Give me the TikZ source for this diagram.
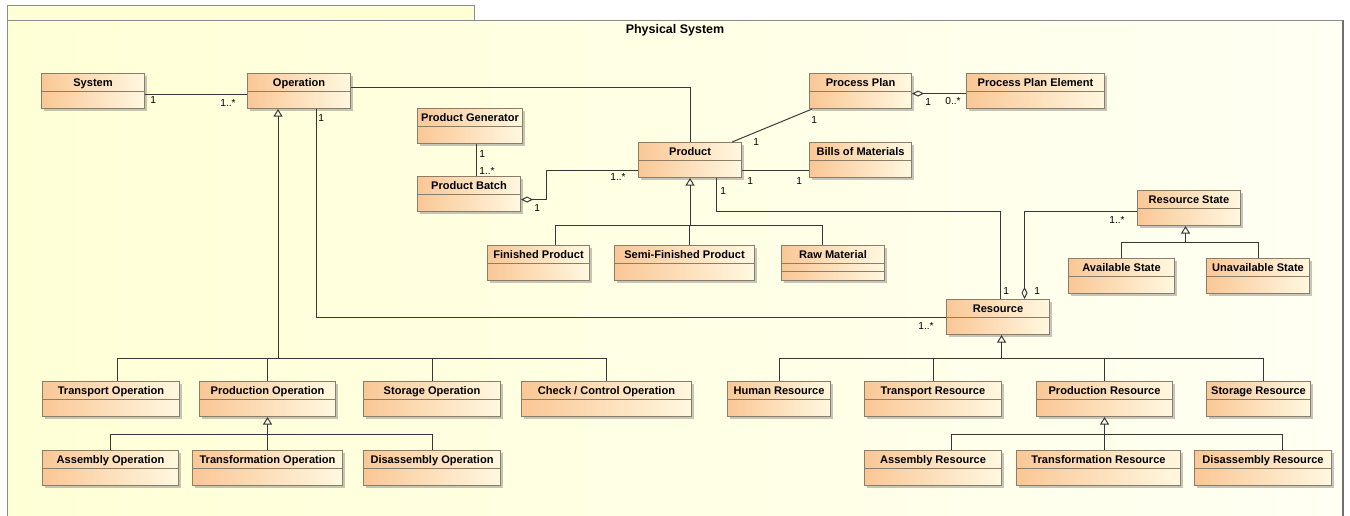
\documentclass[tikz,border=0pt]{standalone}
\usepackage{fontspec}
\setmainfont{Liberation Sans}
\usetikzlibrary{arrows.meta,shadows}

\definecolor{framebg}{RGB}{255,255,214}
\definecolor{framebgr}{RGB}{255,255,243}
\definecolor{frameline}{RGB}{140,140,140}
\definecolor{boxorange}{RGB}{250,199,150}
\definecolor{boxcream}{RGB}{255,248,224}
\definecolor{boxline}{RGB}{140,126,102}
\definecolor{wire}{RGB}{55,55,55}

\begin{document}
\begin{tikzpicture}[x=0.02cm, y=-0.02cm,
    classbox/.style={draw=boxline, line width=0.6pt, left color=boxorange, right color=boxcream,
        anchor=north west, inner sep=0pt, minimum height=0.7cm, minimum width=#1*0.02cm,
        drop shadow={shadow xshift=0.05cm, shadow yshift=-0.05cm, fill=black!45, opacity=0.5},
        path picture={\draw[boxline, line width=0.6pt] ([yshift=-0.36cm]path picture bounding box.north west) -- ([yshift=-0.36cm]path picture bounding box.north east);}},
    cname/.style={anchor=base, font=\fontsize{6.3}{7.5}\selectfont\bfseries, inner sep=0pt},
    mult/.style={anchor=base west, font=\fontsize{5.8}{7}\selectfont, inner sep=0pt},
    wire/.style={draw=wire, line width=0.55pt},
    gen/.style={wire, -{Triangle[open, length=1.5mm, width=1.8mm]}},
    aggr/.style={wire, {Diamond[open, length=2.4mm, width=1.2mm]}-}]

    \useasboundingbox (0,0) rectangle (1350,515);
    \fill[white] (0,0) rectangle (1350,515);
    \draw[frameline, fill=framebg] (7,5) rectangle (474,20);
    \path[left color=framebg, right color=framebgr] (7,20) rectangle (1343,520);
    \draw[frameline] (7,520) -- (7,20) -- (1343,20);
    \draw[frameline!80!black, line width=1.1pt] (1343,20) -- (1343,520);
    \node[font=\fontsize{7.1}{8.5}\selectfont\bfseries] (title) at (675,30) {Physical System};

    \foreach \nm/\x/\y/\w/\txt in {sys/41/73/103/System, op/247/73/103/Operation,
        pgen/417/108/105/Product Generator, pbatch/417/176/103/Product Batch,
        prod/638/142/103/Product, pplan/809/73/102/Process Plan,
        ppel/966/73/138/Process Plan Element, bom/809/142/102/Bills of Materials,
        fin/487/245/102/Finished Product, semi/614/245/140/Semi-Finished Product,
        raw/781/245/103/Raw Material, rstate/1137/190/103/Resource State,
        avail/1068/258/106/Available State, unavail/1206/258/103/Unavailable State,
        res/946/299/103/Resource, transop/42/381/137/Transport Operation,
        prodop/199/381/136/Production Operation, storop/363/381/137/Storage Operation,
        chkop/521/381/170/{Check / Control Operation}, asmop/42/450/136/Assembly Operation,
        trfop/192/450/150/Transformation Operation, disop/363/450/137/Disassembly Operation,
        hres/727/381/103/Human Resource, tres/864/381/137/Transport Resource,
        pres/1036/381/136/Production Resource, sres/1206/381/104/Storage Resource,
        ares/864/450/137/Assembly Resource, trres/1016/450/164/Transformation Resource,
        dres/1194/450/137/Disassembly Resource}
    {
        \node[classbox=\w] (\nm) at (\x,\y) {};
        \node[cname] (\nm-t) at ([yshift=-0.26cm]\nm.north) {\txt};
    }
    \draw[boxline, line width=0.6pt] ([yshift=-0.53cm]raw.north west) -- ([yshift=-0.53cm]raw.north east);

    \draw[wire] ([yshift=-0.07cm]sys.east) -- ([yshift=-0.07cm]op.west);
    \draw[wire] ([yshift=0.07cm]op.east) -| (prod.north);
    \draw[wire] ([xshift=0.13cm]pgen.south) -- ([xshift=0.13cm]pgen.south |- pbatch.north);
    \draw[aggr] ([yshift=-0.11cm]pbatch.east) -- ++(25,0) |- ([yshift=-0.21cm]prod.west);
    \draw[wire] ([xshift=-0.2cm]prod.north east) -- ([xshift=0.06cm]pplan.south west);
    \draw[wire] ([yshift=-0.21cm]prod.east) -- ([yshift=-0.21cm]bom.west);
    \draw[aggr] ([yshift=-0.05cm]pplan.east) -- ([yshift=-0.05cm]ppel.west);
    \coordinate (lane) at (0,211);
    \draw[wire] ([xshift=0.53cm]prod.south) |- ([xshift=0.05cm]res.north |- lane) -- ([xshift=0.05cm]res.north);
    \draw[aggr] ([xshift=0.53cm]res.north) |- ([yshift=-0.07cm]rstate.west);
    \draw[wire] ([xshift=0.35cm]op.south) |- (res.west);

    \coordinate (opbus) at (278,358);
    \draw[gen] (opbus) -- (opbus |- op.south);
    \draw[wire] ([xshift=0.13cm]transop.north) |- (chkop.north |- opbus) -- (chkop.north);
    \draw[wire] (prodop.north) -- (prodop.north |- opbus);
    \draw[wire] (storop.north) -- (storop.north |- opbus);

    \coordinate (pobus) at (267,434);
    \draw[gen] (trfop.north) -- (prodop.south);
    \draw[wire] (asmop.north) |- (disop.north |- pobus) -- (disop.north);

    \coordinate (prbus) at (689,225);
    \draw[gen] (prod.south |- prbus) -- (prod.south);
    \draw[wire] ([xshift=0.34cm]fin.north) |- ([xshift=-0.21cm]raw.north |- prbus) -- ([xshift=-0.21cm]raw.north);
    \draw[wire] ([xshift=0.1cm]semi.north) -- ([xshift=0.1cm]semi.north |- prbus);

    \coordinate (rsbus) at (1185,242);
    \draw[gen] ([xshift=-0.07cm]rstate.south |- rsbus) -- ([xshift=-0.07cm]rstate.south);
    \draw[wire] (avail.north) |- (unavail.north |- rsbus) -- (unavail.north);

    \coordinate (resbus) at (1001,358);
    \draw[gen] ([xshift=0.07cm]res.south |- resbus) -- ([xshift=0.07cm]res.south);
    \draw[wire] (hres.north) |- ([xshift=0.1cm]sres.north |- resbus) -- ([xshift=0.1cm]sres.north);
    \draw[wire] (tres.north) -- (tres.north |- resbus);
    \draw[wire] (pres.north) -- (pres.north |- resbus);

    \coordinate (prsbus) at (1104,434);
    \draw[gen] (pres.south |- prsbus) -- (pres.south);
    \draw[wire] ([xshift=0.37cm]ares.north) |- ([xshift=0.39cm]dres.north |- prsbus) -- ([xshift=0.39cm]dres.north);
    \draw[wire] ([xshift=0.12cm]trres.north) -- ([xshift=0.12cm]trres.north |- prsbus);

    \foreach \i/\x/\y/\t in {1/150/103/1, 2/220/106/1..*, 3/318/121/1, 4/479/157/1,
        5/479/174/1..*, 6/534/211/1, 7/610/180/1..*, 8/753/145/1, 9/811/123/1,
        10/747/184/1, 11/796/184/1, 12/720/194/1, 13/925/105/1, 14/945/104/0..*,
        15/1003/294/1, 16/1034/294/1, 17/1109/223/1..*, 18/918/329/1..*}
        \node[mult] (m\i) at (\x,\y) {\t};
\end{tikzpicture}
\end{document}
